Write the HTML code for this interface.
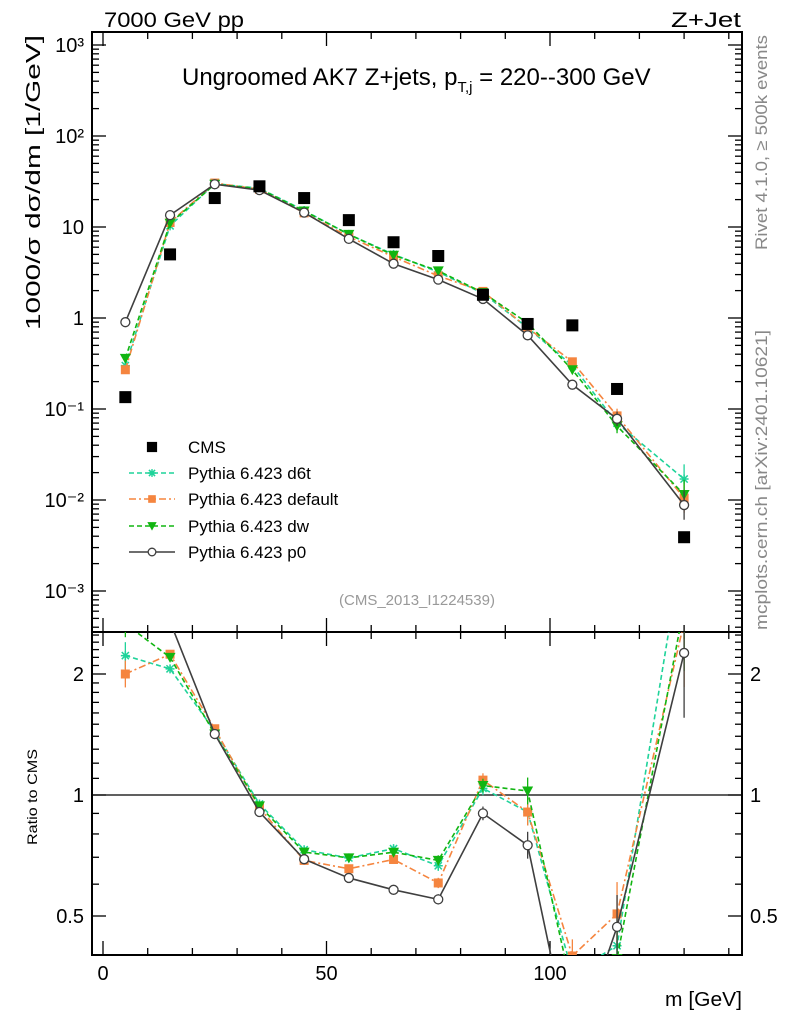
<!DOCTYPE html>
<html><head><meta charset="utf-8">
<style>
html,body{margin:0;padding:0;background:#fff;}
svg{display:block;font-family:"Liberation Sans",sans-serif;}
</style></head>
<body>
<svg id="chart" width="786" height="1024" viewBox="0 0 786 1024" xmlns="http://www.w3.org/2000/svg">
<defs>
<clipPath id="cm"><rect x="92" y="32" width="650" height="600"/></clipPath>
<clipPath id="cr"><rect x="92" y="632" width="650" height="323"/></clipPath>
</defs>
<text x="104" y="27" font-size="21" textLength="140" lengthAdjust="spacingAndGlyphs">7000 GeV pp</text>
<text x="671" y="27" font-size="21" textLength="70" lengthAdjust="spacingAndGlyphs">Z+Jet</text>
<text x="182" y="85" font-size="24">Ungroomed AK7 Z+jets, p<tspan font-size="15" dy="7">T,j</tspan><tspan dy="-7"> = 220--300 GeV</tspan></text>
<text transform="translate(40,330) rotate(-90)" font-size="20" textLength="295" lengthAdjust="spacingAndGlyphs">1000/σ   dσ/dm [1/GeV]</text>
<text transform="translate(37,845) rotate(-90)" font-size="14" textLength="96" lengthAdjust="spacingAndGlyphs">Ratio to CMS</text>
<text transform="translate(767,250) rotate(-90)" font-size="17" fill="#888" textLength="215" lengthAdjust="spacingAndGlyphs">Rivet 4.1.0, ≥ 500k events</text>
<text transform="translate(767,630) rotate(-90)" font-size="17" fill="#888" textLength="300" lengthAdjust="spacingAndGlyphs">mcplots.cern.ch [arXiv:2401.10621]</text>
<text x="417" y="605" font-size="15" fill="#999" text-anchor="middle">(CMS_2013_I1224539)</text>
<text x="665" y="1006" font-size="20" textLength="77" lengthAdjust="spacingAndGlyphs">m [GeV]</text>
<g id="axes"></g>
<g id="series-main" clip-path="url(#cm)"></g>
<g id="series-ratio" clip-path="url(#cr)"></g>
<g id="legend"></g>
</svg>
<script>
const xs = [5,15,25,35,45,55,65,75,85,95,105,115,130];
const cms = [0.135,5.0,20.8,28,20.8,11.9,6.8,4.8,1.8,0.86,0.83,0.166,0.0039];
const d6t = [0.30,10.3,30,26.6,15.2,8.3,5.0,3.2,1.87,0.78,0.30,0.07,0.017];
const def = [0.27,11.2,30.4,26,14.3,7.8,4.7,2.9,1.96,0.78,0.33,0.084,0.0105];
const dw = [0.36,11.0,29.5,26.3,15.0,8.3,4.9,3.3,1.9,0.88,0.27,0.065,0.0115];
const p0 = [0.9,13.5,29.5,25.4,14.4,7.4,3.95,2.64,1.62,0.645,0.185,0.078,0.0088];
const relErr = [0.08,0.02,0.01,0.01,0.01,0.01,0.02,0.03,0.04,0.08,0.1,0.2,0.45];
const yMainTicks = [-3,-2,-1,0,1,2,3];
const yMainLabels = ["10⁻³","10⁻²","10⁻¹","1","10","10²","10³"];
const yRatioTicks = [0.5,1,2];
const xTicks = [0,50,100];

const NS="http://www.w3.org/2000/svg";
const X = v => 103 + (v)*4.47;
const YM = v => 318 - 91*Math.log10(v);
const YR = r => 795 - 121*Math.log2(r);
function el(tag, attrs, parent){const e=document.createElementNS(NS,tag);for(const k in attrs)e.setAttribute(k,attrs[k]);parent.appendChild(e);return e;}
const axes=document.getElementById('axes');
const gm=document.getElementById('series-main');
const gr=document.getElementById('series-ratio');
const lg=document.getElementById('legend');

let f1=el('rect',{x:92,y:32,width:650,height:600,fill:'none',stroke:'#000','stroke-width':2},axes);


let f2=el('rect',{x:92,y:632,width:650,height:323,fill:'none',stroke:'#000','stroke-width':2},axes);



for(let d=-4; d<=3; d++){
  for(let m=1;m<=9;m++){
    const v=m*Math.pow(10,d); const y=YM(v);
    if(y<32||y>632) continue;
    const L = m===1?14:7;
    el('line',{x1:92,x2:92+L,y1:y,y2:y,stroke:'#000','stroke-width':1.3},axes);
    el('line',{x1:742,x2:742-L,y1:y,y2:y,stroke:'#000','stroke-width':1.3},axes);
  }
}
yMainTicks.forEach((d,i)=>{
  const t=el('text',{x:84,y:YM(Math.pow(10,d))+7,'font-size':20,'text-anchor':'end'},axes);
  t.textContent=yMainLabels[i];
  
  
});
for(let r=0.4;r<=2.6;r+=0.1){
  const y=YR(r); if(y<632||y>955) continue;
  const major=Math.abs(r-0.5)<1e-6||Math.abs(r-1)<1e-6||Math.abs(r-2)<1e-6;
  const L=major?14:7;
  el('line',{x1:92,x2:92+L,y1:y,y2:y,stroke:'#000','stroke-width':1.3},axes);
  el('line',{x1:742,x2:742-L,y1:y,y2:y,stroke:'#000','stroke-width':1.3},axes);
}
yRatioTicks.forEach(r=>{
  const t=el('text',{x:84,y:YR(r)+7,'font-size':20,'text-anchor':'end'},axes);
  t.textContent=String(r);
  
  
  const t2=el('text',{x:750,y:YR(r)+7,'font-size':20},axes);
  t2.textContent=String(r);
  
  
});
el('line',{x1:92,x2:742,y1:YR(1),y2:YR(1),stroke:'#000','stroke-width':1.3},axes);
for(let v=0; v<=140; v+=10){
  const x=X(v); const major=v%50===0; const L=major?14:7;
  [32,632].forEach(y0=>{el('line',{x1:x,x2:x,y1:y0,y2:y0+L,stroke:'#000','stroke-width':1.3},axes);});
  [632,955].forEach(y0=>{el('line',{x1:x,x2:x,y1:y0,y2:y0-L,stroke:'#000','stroke-width':1.3},axes);});
}
xTicks.forEach(v=>{
  const t=el('text',{x:X(v),y:980,'font-size':20,'text-anchor':'middle'},axes);
  t.textContent=String(v);
  
  
});

function marker(g,type,x,y,col,s){
  s=s||1;
  if(type==='sq'){ return el('rect',{x:x-6*s,y:y-6*s,width:12*s,height:12*s,fill:col},g); }
  if(type==='osq'){ return el('rect',{x:x-4.5*s,y:y-4.5*s,width:9*s,height:9*s,fill:col},g); }
  if(type==='tri'){ return el('path',{d:`M${x-5.5*s},${y-4.5*s}L${x+5.5*s},${y-4.5*s}L${x},${y+5.5*s}Z`,fill:col},g); }
  if(type==='circ'){ return el('circle',{cx:x,cy:y,r:4.5*s,fill:'#fff',stroke:col,'stroke-width':1.3},g); }
  if(type==='star'){ const r=4.5*s; return el('path',{d:`M${x-r},${y}H${x+r}M${x},${y-r}V${y+r}M${x-r*0.8},${y-r*0.8}L${x+r*0.8},${y+r*0.8}M${x-r*0.8},${y+r*0.8}L${x+r*0.8},${y-r*0.8}`,stroke:col,'stroke-width':1.5,fill:'none'},g); }
}
const series=[
  {name:'d6t',vals:d6t,col:'#1fd39a',dash:'5,3',mk:'star',label:'Pythia 6.423 d6t'},
  {name:'default',vals:def,col:'#f5853f',dash:'7,3,2,3',mk:'osq',label:'Pythia 6.423 default'},
  {name:'dw',vals:dw,col:'#11b511',dash:'5,3',mk:'tri',label:'Pythia 6.423 dw'},
  {name:'p0',vals:p0,col:'#3f3f3f',dash:'',mk:'circ',label:'Pythia 6.423 p0'}
];
series.forEach(s=>{
  const pts=xs.map((x,i)=>X(x)+','+YM(s.vals[i])).join(' ');
  const pl=el('polyline',{points:pts,fill:'none',stroke:s.col,'stroke-width':1.6,'stroke-dasharray':s.dash},gm);
  
  
  const rpts=xs.map((x,i)=>X(x)+','+YR(s.vals[i]/cms[i])).join(' ');
  const rl=el('polyline',{points:rpts,fill:'none',stroke:s.col,'stroke-width':1.6,'stroke-dasharray':s.dash},gr);
  
  
  xs.forEach((x,i)=>{
    const v=s.vals[i], e=relErr[i];
    el('line',{x1:X(x),x2:X(x),y1:YM(v*(1+e)),y2:YM(v/(1+e)),stroke:s.col,'stroke-width':1.3},gm);
    const m=marker(gm,s.mk,X(x),YM(v),s.col);
    
    
    const r=v/cms[i];
    el('line',{x1:X(x),x2:X(x),y1:YR(r*(1+e)),y2:YR(r/(1+e)),stroke:s.col,'stroke-width':1.3},gr);
    const m2=marker(gr,s.mk,X(x),YR(r),s.col);
    
    
  });
});
xs.forEach((x,i)=>{
  const m=marker(gm,'sq',X(x),YM(cms[i]),'#000');
  
  
});

const ly=[447,473,499,526,552];
const items=[{mk:'sq',col:'#000',label:'CMS',dash:null}].concat(series);
items.forEach((s,i)=>{
  const y=ly[i];
  if(s.dash!==null){
    const l=el('line',{x1:129,x2:175,y1:y,y2:y,stroke:s.col,'stroke-width':1.6,'stroke-dasharray':s.dash},lg);
    
    
  }
  const m=marker(lg,s.mk,152,y,s.col,0.85);
  
  
  const t=el('text',{x:188,y:y+6,'font-size':17},lg);
  t.textContent=s.label;
  
  
});
</script>
</body></html>
